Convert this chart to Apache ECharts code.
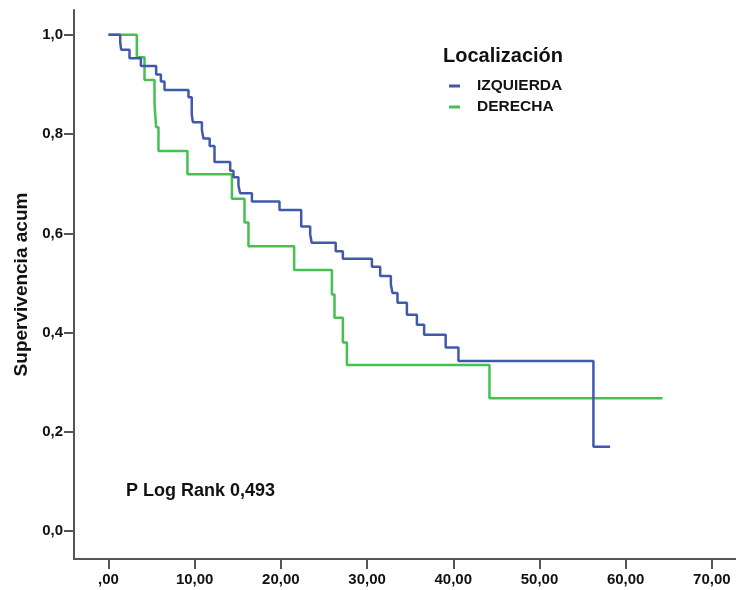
<!DOCTYPE html>
<html>
<head>
<meta charset="utf-8">
<script src="https://cdn.jsdelivr.net/npm/echarts@6/dist/echarts.min.js"></script>
<style>
  html, body { margin: 0; padding: 0; background: #fff; }
  #chart { width: 736px; height: 590px; }
</style>
</head>
<body>
<div id="chart"></div>
<script>
// Kaplan-Meier steps: [months, cumulative survival]
const izquierda = [
    [0, 1.0], [1.36, 0.985], [1.47, 0.970], [2.44, 0.953], [3.76, 0.937],
    [5.53, 0.920], [6.08, 0.906], [6.50, 0.889], [9.28, 0.874], [9.66, 0.840],
    [9.79, 0.824], [10.84, 0.808], [11.02, 0.791], [11.74, 0.776], [12.30, 0.744],
    [14.12, 0.726], [14.50, 0.713], [15.08, 0.696], [15.28, 0.681], [16.64, 0.664],
    [19.84, 0.647], [22.36, 0.614], [23.40, 0.598], [23.57, 0.581], [26.36, 0.564],
    [27.19, 0.549], [30.56, 0.533], [31.52, 0.514], [32.76, 0.497], [32.95, 0.480],
    [33.53, 0.460], [34.62, 0.436], [35.78, 0.416], [36.62, 0.396], [39.12, 0.370],
    [40.60, 0.343], [56.26, 0.170], [58.20, 0.170],
];
const derecha = [
    [0, 1.0], [3.29, 0.955], [4.18, 0.909], [5.34, 0.861], [5.53, 0.814],
    [5.80, 0.766], [9.16, 0.719], [14.32, 0.670], [15.78, 0.622], [16.24, 0.574],
    [21.54, 0.526], [25.92, 0.477], [26.22, 0.430], [27.19, 0.380], [27.66, 0.335],
    [44.20, 0.268], [64.27, 0.268],
];
const xTicks = [0, 10, 20, 30, 40, 50, 60, 70];
const yTicks = [0, 0.2, 0.4, 0.6, 0.8, 1.0];
const groupNames = ['IZQUIERDA', 'DERECHA'];

const sans = '"Liberation Sans", Arial, sans-serif';
const axisColor = '#555';

const chart = echarts.init(document.getElementById('chart'));
chart.setOption({
    animation: false,
    grid: {left: 74, right: 0, top: 10, bottom: 31},
    legend: {
        data: groupNames,
        orient: 'vertical',
        left: 444,
        top: 73,
        icon: 'rect',
        itemWidth: 11,
        itemHeight: 3,
        itemGap: 5,
        textStyle: {
            fontFamily: sans,
            fontWeight: 'bold',
            fontSize: 15.5,
            color: '#111',
            padding: [0, 0, 0, 12],
        },
    },
    graphic: [
        {
            type: 'text', left: 443, top: 46,
            style: {text: 'Localización', fontFamily: sans, fontWeight: 'bold', fontSize: 20, fill: '#111'},
        },
        {
            type: 'text', left: 126, top: 482,
            style: {text: 'P Log Rank 0,493', fontFamily: sans, fontWeight: 'bold', fontSize: 18, fill: '#111'},
        },
    ],
    xAxis: {
        type: 'value',
        min: -4,
        max: 72.8,
        splitLine: {show: false},
        axisLine: {onZero: false, lineStyle: {color: axisColor, width: 2}},
        axisTick: {customValues: xTicks, length: 10, lineStyle: {color: axisColor, width: 2}},
        axisLabel: {
            customValues: xTicks,
            margin: 13,
            fontFamily: sans,
            fontWeight: 'bold',
            fontSize: 15,
            color: '#111',
            formatter: (v) => (v === 0 ? ',00' : v.toFixed(2).replace('.', ',')),
        },
    },
    yAxis: {
        type: 'value',
        min: -0.056,
        max: 1.05,
        name: 'Supervivencia acum',
        nameLocation: 'middle',
        nameGap: 40,
        nameTextStyle: {fontFamily: sans, fontWeight: 'bold', fontSize: 19, color: '#111'},
        splitLine: {show: false},
        axisLine: {show: true, onZero: false, lineStyle: {color: axisColor, width: 2}},
        axisTick: {show: true, customValues: yTicks, length: 10, lineStyle: {color: axisColor, width: 2}},
        axisLabel: {
            customValues: yTicks,
            margin: 11,
            fontFamily: sans,
            fontWeight: 'bold',
            fontSize: 15,
            color: '#111',
            formatter: (v) => v.toFixed(1).replace('.', ','),
        },
    },
    series: [
        {
            name: groupNames[0],
            type: 'line',
            step: 'end',
            data: izquierda,
            showSymbol: false,
            z: 3,
            color: '#4159ad',
            lineStyle: {width: 2.5, color: '#4159ad'},
        },
        {
            name: groupNames[1],
            type: 'line',
            step: 'end',
            data: derecha,
            showSymbol: false,
            z: 2,
            color: '#45c14f',
            lineStyle: {width: 2.5, color: '#45c14f'},
        },
    ],
});
</script>
</body>
</html>
